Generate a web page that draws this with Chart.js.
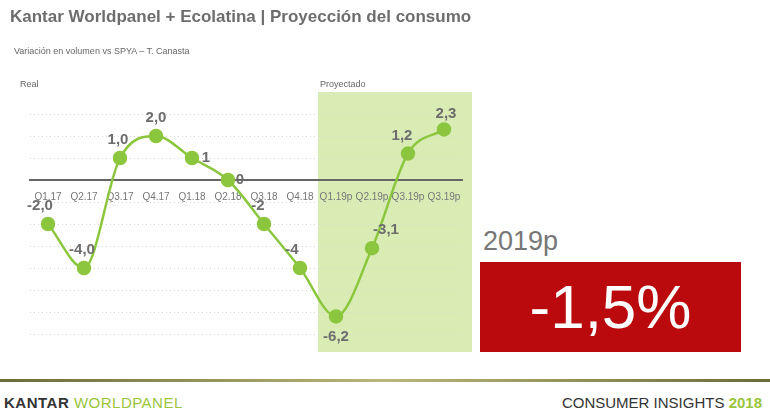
<!DOCTYPE html>
<html>
<head>
<meta charset="utf-8">
<script src="https://cdn.jsdelivr.net/npm/chart.js@4"></script>
<style>
  body { margin: 0; width: 770px; height: 420px; background: #fff; font-family: Arial, "Liberation Sans", sans-serif; position: relative; overflow: hidden; }
  .t { position: absolute; white-space: nowrap; z-index: 2; }
  #wrap { position: absolute; left: 0; top: 0; width: 480px; height: 370px; }
</style>
</head>
<body>
<div class="t" style="left:10px;top:7px;font-size:17px;font-weight:bold;color:#6d6d6d;">Kantar Worldpanel + Ecolatina | Proyección del consumo</div>
<div class="t" style="left:14px;top:46px;font-size:9px;color:#666;">Variación en volumen vs SPYA – T. Canasta</div>
<div class="t" style="left:20px;top:79px;font-size:9px;color:#666;">Real</div>
<div class="t" style="left:320px;top:79px;font-size:9px;color:#666;">Proyectado</div>
<div id="wrap"><canvas id="chart"></canvas></div>
<div class="t" style="left:483px;top:226px;font-size:27px;color:#777;">2019p</div>
<div style="position:absolute;left:480px;top:262px;width:261px;height:90px;background:#bb0a0d;color:#fff;font-size:62px;text-align:center;line-height:90px;">-1,5%</div>
<div style="position:absolute;left:0;top:379px;width:770px;height:3px;background:linear-gradient(to right,#6b6a3a,#b9b77a 50%,#6b6a3a);"></div>
<div class="t" style="left:4px;top:394px;font-size:15px;color:#333;letter-spacing:0.5px;"><b>KANTAR</b> <span style="color:#9ac53c;">WORLDPANEL</span></div>
<div class="t" style="right:8px;top:394px;font-size:15px;color:#333;">CONSUMER INSIGHTS <b style="color:#9ac53c;">2018</b></div>
<script>
// datos
const quarters = ["Q1.17", "Q2.17", "Q3.17", "Q4.17", "Q1.18", "Q2.18", "Q3.18", "Q4.18", "Q1.19p", "Q2.19p", "Q3.19p", "Q3.19p"];
const variation = [-2.0, -4.0, 1.0, 2.0, 1, 0, -2, -4, -6.2, -3.1, 1.2, 2.3];
const pointLabels = ["-2,0", "-4,0", "1,0", "2,0", "1", "0", "-2", "-4", "-6,2", "-3,1", "1,2", "2,3"];
// where each label sits relative to its point: [dx, dy]
const labelOffsets = [[-8, -18], [-2, -18], [-2, -18], [0, -18], [14, 0], [12, 0], [-6, -18], [-8, -18], [0, 20], [14, -18], [-6, -18], [2, -16]];
const projectedFrom = 8;

const greenBand = {
  id: "greenBand",
  beforeDraw(chart) {
    const { ctx, scales: { x } } = chart;
    const left = (x.getPixelForValue(projectedFrom - 1) + x.getPixelForValue(projectedFrom)) / 2;
    ctx.save();
    ctx.fillStyle = "#d8ecb4";
    ctx.fillRect(left, 92, 472 - left, 260);
    ctx.restore();
  }
};

const valueLabels = {
  id: "valueLabels",
  afterDatasetsDraw(chart) {
    const { ctx } = chart;
    const meta = chart.getDatasetMeta(0);
    ctx.save();
    ctx.font = "bold 15px Arial, 'Liberation Sans', sans-serif";
    ctx.fillStyle = "#6d6d6d";
    ctx.textAlign = "center";
    ctx.textBaseline = "middle";
    meta.data.forEach((pt, i) => {
      ctx.fillText(pointLabels[i], pt.x + labelOffsets[i][0], pt.y + labelOffsets[i][1]);
    });
    ctx.restore();
  }
};

new Chart(document.getElementById("chart"), {
  type: "line",
  data: {
    labels: quarters,
    datasets: [{
      data: variation,
      borderColor: "#8cc63e",
      borderWidth: 2.5,
      backgroundColor: "#8cc63e",
      pointRadius: 6,
      pointHoverRadius: 6,
      cubicInterpolationMode: "monotone",
      fill: false
    }]
  },
  options: {
    responsive: true,
    maintainAspectRatio: false,
    animation: false,
    layout: { padding: { left: 30, right: 18, top: 114, bottom: 36 } },
    plugins: { legend: { display: false }, tooltip: { enabled: false } },
    scales: {
      x: {
        position: { y: 0 },
        offset: true,
        grid: { display: false },
        border: { color: "#666", width: 2 },
        ticks: { color: "#777", font: { size: 10 }, padding: 3, maxRotation: 0, autoSkip: false }
      },
      y: {
        min: -7,
        max: 3,
        ticks: { display: false, stepSize: 1 },
        border: { display: false, dash: [1, 3] },
        grid: { color: "#d8d8d8", lineWidth: 1, drawTicks: false },
        afterFit(s) { s.width = 0; }
      }
    }
  },
  plugins: [greenBand, valueLabels]
});
</script>
</body>
</html>
